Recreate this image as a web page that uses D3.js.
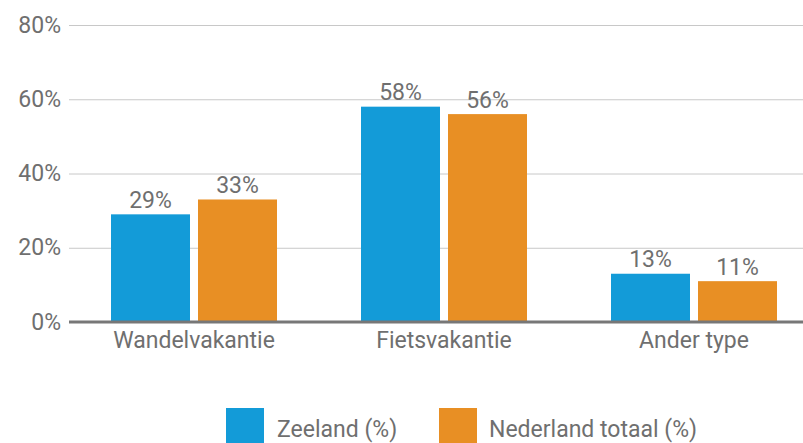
<!DOCTYPE html>
<html>
<head>
<meta charset="utf-8">
<script src="https://cdn.jsdelivr.net/npm/d3@7"></script>
<style>
  body { margin: 0; background: #fff; }
  svg text { font-family: Roboto, sans-serif; fill: #6f6f6f; }
</style>
</head>
<body>
<div class="holder"></div>
<script>
// data
var categories = ["Wandelvakantie", "Fietsvakantie", "Ander type"];
var seriesNames = ["Zeeland (%)", "Nederland totaal (%)"];
var zeeland = [29, 58, 13];
var nederland = [33, 56, 11];
var yTicks = [0, 20, 40, 60, 80];
var colors = ["#139bd8", "#e88f24"];

var width = 803, height = 443;
var fontSize = "23px";
var svg = d3.select(".holder").append("svg")
    .attr("width", width)
    .attr("height", height);

var x0 = d3.scaleBand().domain(categories).range([69, 819]).padding(0);
var x1 = d3.scaleBand().domain(seriesNames).range([42, 208]).paddingInner(0.092);
var y = d3.scaleLinear().domain([0, 80]).range([322, 25]);

// gridlines + y labels
var yAxis = d3.axisLeft(y).tickValues(yTicks).tickFormat(function(d) { return d + "%"; })
    .tickSize(0).tickPadding(8);
var ga = svg.append("g").attr("transform", "translate(69,0)").call(yAxis);
ga.select(".domain").remove();
ga.selectAll("text").style("font-size", fontSize).attr("dy", "7px").attr("fill", "#6f6f6f")
    .style("font-family", "Roboto, sans-serif");

svg.append("g").selectAll("line")
    .data(yTicks.filter(function(d) { return d > 0; }))
    .join("line")
    .attr("x1", 69).attr("x2", width)
    .attr("y1", function(d) { return y(d) + 0.5; })
    .attr("y2", function(d) { return y(d) + 0.5; })
    .attr("stroke", "#c8c8c8").attr("stroke-width", 1);

// bars
var rows = categories.map(function(c, i) {
  return { cat: c, vals: [zeeland[i], nederland[i]] };
});

var groups = svg.append("g").selectAll("g")
    .data(rows).join("g")
    .attr("transform", function(d) { return "translate(" + x0(d.cat) + ",0)"; });

groups.selectAll("rect")
    .data(function(d) { return d.vals.map(function(v, j) { return { s: seriesNames[j], v: v, j: j }; }); })
    .join("rect")
    .attr("x", function(d) { return x1(d.s); })
    .attr("y", function(d) { return y(d.v); })
    .attr("width", x1.bandwidth())
    .attr("height", function(d) { return y(0) - y(d.v); })
    .attr("fill", function(d) { return colors[d.j]; });

groups.selectAll("text.val")
    .data(function(d) { return d.vals.map(function(v, j) { return { s: seriesNames[j], v: v }; }); })
    .join("text")
    .attr("class", "val")
    .attr("x", function(d) { return x1(d.s) + x1.bandwidth() / 2; })
    .attr("y", function(d) { return y(d.v) - 6.5; })
    .attr("text-anchor", "middle")
    .style("font-size", fontSize)
    .text(function(d) { return d.v + "%"; });

// baseline axis
svg.append("line")
    .attr("x1", 69).attr("x2", width)
    .attr("y1", y(0)).attr("y2", y(0))
    .attr("stroke", "#777").attr("stroke-width", 3);

// category labels
svg.append("g").selectAll("text")
    .data(categories).join("text")
    .attr("x", function(d) { return x0(d) + x0.bandwidth() / 2; })
    .attr("y", 348)
    .attr("text-anchor", "middle")
    .style("font-size", fontSize)
    .text(function(d) { return d; });

// legend
var legendX = [226, 439];
var lg = svg.append("g").selectAll("g")
    .data(seriesNames).join("g")
    .attr("transform", function(d, i) { return "translate(" + legendX[i] + ",408)"; });
lg.append("rect")
    .attr("width", 38).attr("height", 38)
    .attr("fill", function(d, i) { return colors[i]; });
lg.append("text")
    .attr("x", function(d, i) { return i === 0 ? 51 : 50; })
    .attr("y", 29)
    .style("font-size", fontSize)
    .text(function(d) { return d; });
</script>
</body>
</html>
